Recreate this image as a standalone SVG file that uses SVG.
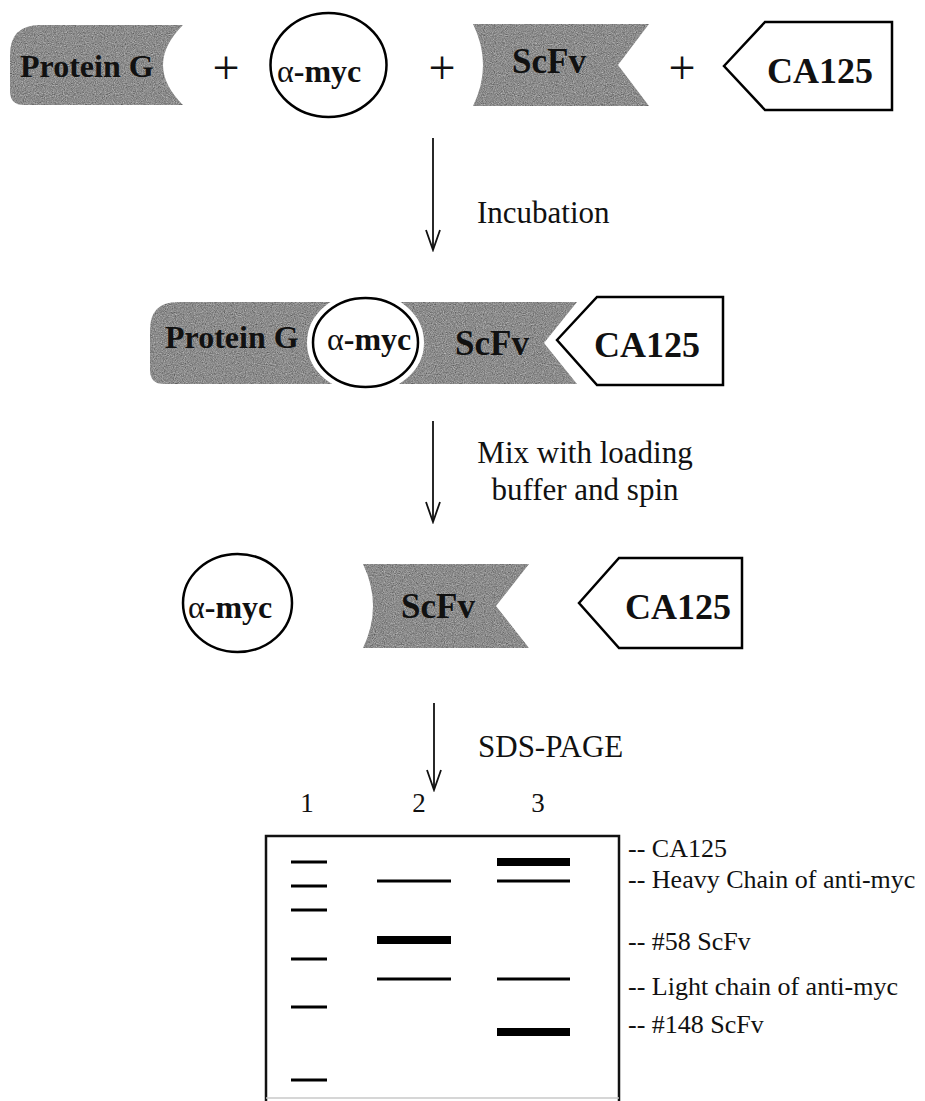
<svg xmlns="http://www.w3.org/2000/svg" width="925" height="1101" viewBox="0 0 925 1101">
<style>
.gray{fill:#8a8a8a;filter:url(#grain)}
.wbox{fill:#fff;stroke:#000;stroke-width:2.5}
.gap{fill:#fff;stroke:#fff;stroke-width:12}
.lbl{font-family:"Liberation Serif","Times New Roman",serif;font-weight:bold;fill:#111}
.alpha{font-weight:normal}
.txt{font-family:"Liberation Serif","Times New Roman",serif;fill:#111}
.conn{stroke:#111;stroke-width:1.8;fill:none}
.band{stroke:#000;stroke-width:3}
.thick{stroke:#000;stroke-width:8}
.gel{fill:none;stroke:#111;stroke-width:2.5}
</style>
<defs>
<filter id="grain" x="0" y="0" width="100%" height="100%" color-interpolation-filters="sRGB">
<feTurbulence type="fractalNoise" baseFrequency="0.9" numOctaves="2" seed="4" result="n"/>
<feColorMatrix in="n" type="matrix" values="0.25 0.25 0.25 0 0.17  0.25 0.25 0.25 0 0.17  0.25 0.25 0.25 0 0.17  0 0 0 0 1" result="g"/>
<feComposite in="g" in2="SourceGraphic" operator="in"/>
</filter>
<marker id="head" viewBox="-22 -9 24 18" refX="0" refY="0" markerWidth="24" markerHeight="18" markerUnits="userSpaceOnUse" orient="auto">
<path d="M -20 -7 L 0 0 L -20 7" fill="none" stroke="#111" stroke-width="1.8"/>
</marker>
</defs>
<rect width="925" height="1101" fill="#fff"/>

<!-- Row 1 -->
<g id="proteinG1">
<path class="gray" d="M 40,25 H 183 Q 143,65 183,105 H 24 Q 10,105 10,91 V 55 Q 10,25 40,25 Z"/>
<text class="lbl" x="20" y="77" font-size="32">Protein G</text>
</g>
<g id="plus1"><text class="txt" x="226" y="84" font-size="48" text-anchor="middle">+</text></g>
<g id="amyc1">
<ellipse class="wbox" cx="328.5" cy="65" rx="58" ry="52"/>
<text class="lbl" x="277" y="82" font-size="32"><tspan class="alpha">α</tspan>-myc</text>
</g>
<g id="plus2"><text class="txt" x="442" y="84" font-size="48" text-anchor="middle">+</text></g>
<g id="scfv1">
<path class="gray" d="M 473,24 H 649 L 618,65 L 649,106 H 473 Q 493,65 473,24 Z"/>
<text class="lbl" x="512" y="73" font-size="35">ScFv</text>
</g>
<g id="plus3"><text class="txt" x="682" y="84" font-size="48" text-anchor="middle">+</text></g>
<g id="ca1251">
<polygon class="wbox" points="724,66 765,22 892,22 892,110 765,110"/>
<text class="lbl" x="767" y="83" font-size="36">CA125</text>
</g>

<!-- Row 2 -->
<g id="complex">
<path class="gray" d="M 178,302 H 577 L 544,343 L 577,384 H 164 Q 150,384 150,370 V 330 Q 150,302 178,302 Z"/>
<ellipse class="gap" cx="365.5" cy="342.5" rx="52.5" ry="44.5"/>
<ellipse class="wbox" cx="365.5" cy="342.5" rx="52.5" ry="44.5"/>
<text class="lbl" x="165" y="348" font-size="32">Protein G</text>
<text class="lbl" x="327" y="350" font-size="32"><tspan class="alpha">α</tspan>-myc</text>
<text class="lbl" x="455" y="355" font-size="35">ScFv</text>
</g>
<g id="ca1252">
<polygon class="wbox" points="557,340 597,297 723,297 723,385 597,385"/>
<text class="lbl" x="594" y="357" font-size="36">CA125</text>
</g>

<!-- Row 3 -->
<g id="amyc3">
<ellipse class="wbox" cx="237.5" cy="603" rx="54.5" ry="49"/>
<text class="lbl" x="188" y="618" font-size="32"><tspan class="alpha">α</tspan>-myc</text>
</g>
<g id="scfv3">
<path class="gray" d="M 363,564 H 529 L 496,606 L 529,648 H 363 Q 383,606 363,564 Z"/>
<text class="lbl" x="438" y="618" font-size="35" text-anchor="middle">ScFv</text>
</g>
<g id="ca1253">
<polygon class="wbox" points="579,603 619,558 742,558 742,648 619,648"/>
<text class="lbl" x="625" y="619" font-size="36">CA125</text>
</g>

<!-- Connectors -->
<g id="connectors">
<line class="conn" x1="433" y1="138" x2="433" y2="250" marker-end="url(#head)"/>
<line class="conn" x1="433" y1="421" x2="433" y2="522" marker-end="url(#head)"/>
<line class="conn" x1="434" y1="703" x2="434" y2="790" marker-end="url(#head)"/>
</g>
<g id="step-labels">
<text class="txt" x="477" y="223" font-size="31">Incubation</text>
<text class="txt" x="585" y="463" font-size="31" text-anchor="middle">Mix with loading</text>
<text class="txt" x="585" y="500" font-size="31" text-anchor="middle">buffer and spin</text>
<text class="txt" x="478" y="757" font-size="31">SDS-PAGE</text>
</g>

<!-- Gel -->
<g id="gel">
<text class="txt" x="307" y="812" font-size="27" text-anchor="middle">1</text>
<text class="txt" x="419" y="812" font-size="27" text-anchor="middle">2</text>
<text class="txt" x="538" y="812" font-size="27" text-anchor="middle">3</text>
<path class="gel" d="M 266,1101 V 836 H 619 V 1101"/>
<line x1="266" y1="1098" x2="619" y2="1098" stroke="#c8c8c8" stroke-width="1.5"/>
<g id="lane1">
<line class="band" x1="291" y1="862" x2="327" y2="862"/>
<line class="band" x1="291" y1="886" x2="327" y2="886"/>
<line class="band" x1="291" y1="910" x2="327" y2="910"/>
<line class="band" x1="291" y1="959" x2="327" y2="959"/>
<line class="band" x1="291" y1="1007" x2="327" y2="1007"/>
<line class="band" x1="291" y1="1080" x2="327" y2="1080"/>
</g>
<g id="lane2">
<line class="band" x1="377" y1="881" x2="451" y2="881"/>
<line class="thick" x1="377" y1="940" x2="451" y2="940"/>
<line class="band" x1="377" y1="979" x2="451" y2="979"/>
</g>
<g id="lane3">
<line class="thick" x1="497" y1="862" x2="570" y2="862"/>
<line class="band" x1="497" y1="881" x2="570" y2="881"/>
<line class="band" x1="497" y1="979" x2="570" y2="979"/>
<line class="thick" x1="497" y1="1032" x2="570" y2="1032"/>
</g>
<g id="band-labels">
<text class="txt" x="628" y="857" font-size="26">-- CA125</text>
<text class="txt" x="628" y="888" font-size="26">-- Heavy Chain of anti-myc</text>
<text class="txt" x="628" y="950" font-size="26">-- #58 ScFv</text>
<text class="txt" x="628" y="995" font-size="26">-- Light chain of anti-myc</text>
<text class="txt" x="628" y="1033" font-size="26">-- #148 ScFv</text>
</g>
</g>
</svg>
